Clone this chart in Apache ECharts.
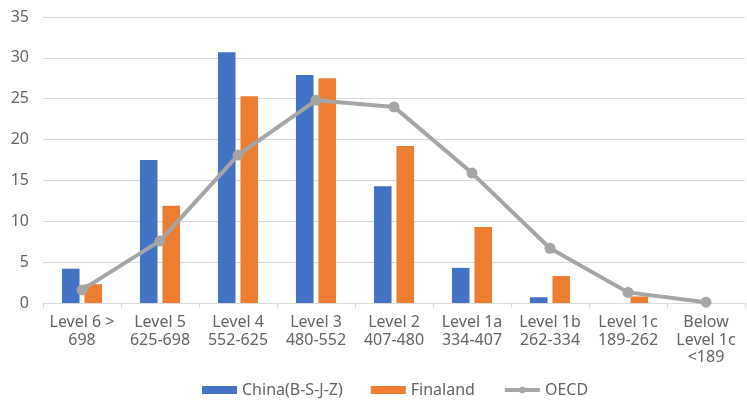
<!DOCTYPE html>
<html>
<head>
<meta charset="utf-8">
<script src="https://cdn.jsdelivr.net/npm/echarts@6/dist/echarts.min.js"></script>
<style>
  html, body { margin: 0; padding: 0; background: #ffffff; }
  #chart { width: 747px; height: 401px; }
</style>
</head>
<body>
<div id="chart"></div>
<script>
// Proficiency levels (score bands) on the category axis
const levels = [
  'Level 6 >\n698',
  'Level 5\n625-698',
  'Level 4\n552-625',
  'Level 3\n480-552',
  'Level 2\n407-480',
  'Level 1a\n334-407',
  'Level 1b\n262-334',
  'Level 1c\n189-262',
  'Below\nLevel 1c\n<189'
];

// Share of students at each level (%)
const china = [4.2, 17.5, 30.7, 27.9, 14.3, 4.3, 0.7, 0, 0];
const finland = [2.3, 11.9, 25.3, 27.5, 19.2, 9.3, 3.3, 0.8, 0];
const oecd = [1.6, 7.6, 18.1, 24.8, 24.0, 15.9, 6.7, 1.3, 0.1];

const seriesNames = ['China(B-S-J-Z)', 'Finaland', 'OECD'];

const FONT = '"Noto Sans", sans-serif';
const TEXT = '#636363';
const GRID_LINE = '#d9d9d9';

const chart = echarts.init(document.getElementById('chart'), null, { renderer: 'canvas' });

chart.setOption({
  animation: false,
  backgroundColor: '#ffffff',
  textStyle: { fontFamily: FONT },
  grid: { left: 43, right: 2, top: 17, bottom: 98, containLabel: false },
  legend: {
    left: 202,
    top: 382,
    padding: 0,
    itemWidth: 35,
    itemHeight: 8,
    itemGap: 28,
    textStyle: { fontFamily: FONT, fontSize: 16, color: TEXT },
    data: [
      { name: seriesNames[0], icon: 'rect' },
      { name: seriesNames[1], icon: 'rect' },
      { name: seriesNames[2], lineStyle: { width: 4 } }
    ]
  },
  xAxis: {
    type: 'category',
    data: levels,
    axisLine: { show: true, lineStyle: { color: GRID_LINE, width: 1 } },
    axisTick: { show: true, alignWithLabel: false, length: 5, lineStyle: { color: GRID_LINE } },
    axisLabel: {
      interval: 0,
      color: TEXT,
      fontFamily: FONT,
      fontSize: 16,
      lineHeight: 17.5,
      margin: 11
    }
  },
  yAxis: {
    type: 'value',
    min: 0,
    max: 35,
    interval: 5,
    axisLine: { show: false },
    axisTick: { show: false },
    splitLine: { show: true, lineStyle: { color: GRID_LINE, width: 1 } },
    axisLabel: { color: TEXT, fontFamily: FONT, fontSize: 16, margin: 14 }
  },
  series: [
    {
      name: seriesNames[0],
      type: 'bar',
      data: china,
      barWidth: 17.6,
      barGap: '28%',
      itemStyle: { color: '#4472C4' }
    },
    {
      name: seriesNames[1],
      type: 'bar',
      data: finland,
      barWidth: 17.6,
      barGap: '28%',
      itemStyle: { color: '#ED7D31' }
    },
    {
      name: seriesNames[2],
      type: 'line',
      data: oecd,
      symbol: 'circle',
      symbolSize: 11,
      lineStyle: { color: '#A5A5A5', width: 4 },
      itemStyle: { color: '#A5A5A5' },
      z: 5
    }
  ]
});
</script>
</body>
</html>
